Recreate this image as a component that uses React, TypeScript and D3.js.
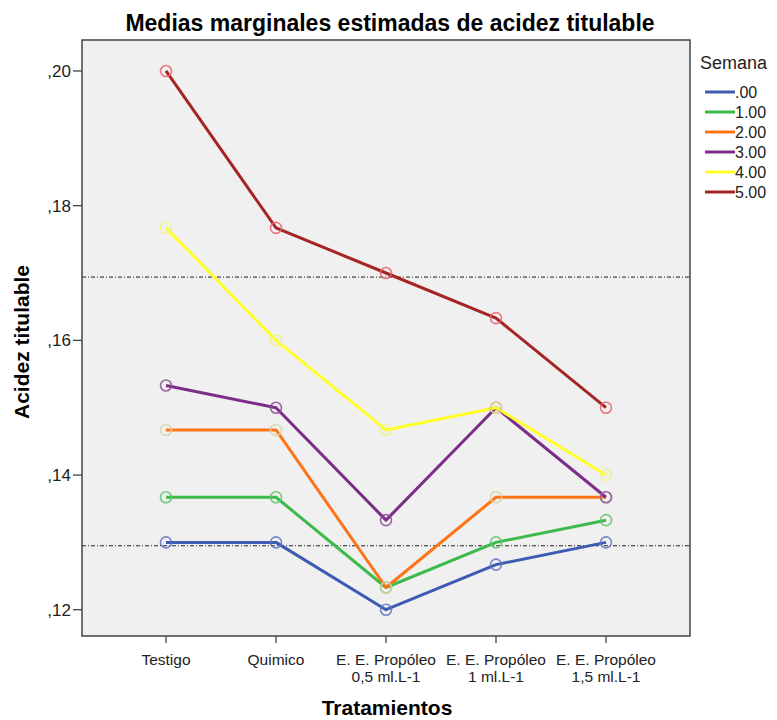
import React, { useEffect, useRef } from "react";
import * as d3 from "d3";

// Treatments (x categories)
const treatments: string[][] = [
  ["Testigo"],
  ["Quimico"],
  ["E. E. Propóleo", "0,5 ml.L-1"],
  ["E. E. Propóleo", "1 ml.L-1"],
  ["E. E. Propóleo", "1,5 ml.L-1"],
];

// Semana series
const weeks = [".00", "1.00", "2.00", "3.00", "4.00", "5.00"];

const week0 = [0.13, 0.13, 0.12, 0.1267, 0.13];
const week1 = [0.1367, 0.1367, 0.1233, 0.13, 0.1333];
const week2 = [0.1467, 0.1467, 0.1233, 0.1367, 0.1367];
const week3 = [0.1533, 0.15, 0.1333, 0.15, 0.1367];
const week4 = [0.1767, 0.16, 0.1467, 0.15, 0.14];
const week5 = [0.2, 0.1767, 0.17, 0.1633, 0.15];

const seriesValues = [week0, week1, week2, week3, week4, week5];

const lineColors = ["#3e5bb3", "#3dba4c", "#ff7417", "#7b2d87", "#ffff2a", "#a52424"];
const markerColors = ["#5f72c2", "#5cc46a", "#d8d2a4", "#8b4c94", "#f2f27e", "#ef5f6e"];

const yTicks = [0.12, 0.14, 0.16, 0.18, 0.2];
const refLines = [0.1694, 0.1295];

export default function App() {
  const svgRef = useRef<SVGSVGElement>(null);

  useEffect(() => {
    if (!svgRef.current) return;
    const svg = d3.select(svgRef.current);
    svg.selectAll("*").remove();

    const left = 82;
    const right = 690;
    const top = 40;
    const bottom = 636;
    const font = "'Liberation Sans', Arial, sans-serif";

    const x = d3
      .scalePoint<number>()
      .domain(d3.range(treatments.length))
      .range([166, 606]);

    const y = d3.scaleLinear().domain([0.1161, 0.2046]).range([bottom, top]);

    // Title
    svg
      .append("text")
      .attr("x", 390)
      .attr("y", 31)
      .attr("text-anchor", "middle")
      .attr("font-family", font)
      .attr("font-weight", "bold")
      .attr("font-size", "23px")
      .text("Medias marginales estimadas de acidez titulable");

    // Plot background
    svg
      .append("rect")
      .attr("x", left)
      .attr("y", top)
      .attr("width", right - left)
      .attr("height", bottom - top)
      .attr("fill", "#f0f0f0");

    // Reference lines
    refLines.forEach((v) => {
      svg
        .append("line")
        .attr("x1", left)
        .attr("x2", right)
        .attr("y1", y(v))
        .attr("y2", y(v))
        .attr("stroke", "#222")
        .attr("stroke-width", 1)
        .attr("stroke-dasharray", "4,2,1,2");
    });

    // Y axis ticks
    const yAxis = svg.append("g");
    yTicks.forEach((t) => {
      yAxis
        .append("line")
        .attr("x1", left - 9)
        .attr("x2", left)
        .attr("y1", y(t))
        .attr("y2", y(t))
        .attr("stroke", "#333")
        .attr("stroke-width", 1.2);
      yAxis
        .append("text")
        .attr("x", left - 11)
        .attr("y", y(t))
        .attr("dy", "0.35em")
        .attr("text-anchor", "end")
        .attr("font-family", font)
        .attr("font-size", "17px")
        .attr("fill", "#222")
        .text(d3.format(".2f")(t).replace("0.", ","));
    });

    // X axis ticks, two-line labels
    const xAxis = svg.append("g");
    treatments.forEach((lines, i) => {
      xAxis
        .append("line")
        .attr("x1", x(i)!)
        .attr("x2", x(i)!)
        .attr("y1", bottom)
        .attr("y2", bottom + 7)
        .attr("stroke", "#333")
        .attr("stroke-width", 1.2);
      lines.forEach((l, j) => {
        xAxis
          .append("text")
          .attr("x", x(i)!)
          .attr("y", 665 + j * 16.5)
          .attr("text-anchor", "middle")
          .attr("font-family", font)
          .attr("font-size", "15.5px")
          .attr("fill", "#222")
          .text(l);
      });
    });

    // Axis titles
    svg
      .append("text")
      .attr("x", 387)
      .attr("y", 715)
      .attr("text-anchor", "middle")
      .attr("font-family", font)
      .attr("font-weight", "bold")
      .attr("font-size", "21px")
      .text("Tratamientos");

    svg
      .append("text")
      .attr("transform", "translate(29,342) rotate(-90)")
      .attr("text-anchor", "middle")
      .attr("font-family", font)
      .attr("font-weight", "bold")
      .attr("font-size", "21px")
      .text("Acidez titulable");

    // Lines
    const line = d3
      .line<number>()
      .x((_, i) => x(i)!)
      .y((d) => y(d));

    seriesValues.forEach((vals, s) => {
      svg
        .append("path")
        .datum(vals)
        .attr("d", line)
        .attr("fill", "none")
        .attr("stroke", lineColors[s])
        .attr("stroke-width", 3)
        .attr("stroke-linejoin", "round");
    });

    // Markers
    seriesValues.forEach((vals, s) => {
      svg
        .append("g")
        .selectAll("circle")
        .data(vals)
        .enter()
        .append("circle")
        .attr("cx", (_, i) => x(i)!)
        .attr("cy", (d) => y(d))
        .attr("r", 5.5)
        .attr("fill", "none")
        .attr("stroke", markerColors[s])
        .attr("stroke-width", 1.6)
        .attr("opacity", 0.85);
    });

    // Frame
    svg
      .append("rect")
      .attr("x", left)
      .attr("y", top)
      .attr("width", right - left)
      .attr("height", bottom - top)
      .attr("fill", "none")
      .attr("stroke", "#444")
      .attr("stroke-width", 1.5);

    // Legend
    const legend = svg.append("g");
    legend
      .append("text")
      .attr("x", 700)
      .attr("y", 69)
      .attr("font-family", font)
      .attr("font-size", "18px")
      .attr("fill", "#222")
      .text("Semana");

    weeks.forEach((w, i) => {
      const ly = 92 + i * 20;
      legend
        .append("line")
        .attr("x1", 705)
        .attr("x2", 735)
        .attr("y1", ly)
        .attr("y2", ly)
        .attr("stroke", lineColors[i])
        .attr("stroke-width", 3);
      legend
        .append("text")
        .attr("x", 735)
        .attr("y", ly)
        .attr("dy", "0.38em")
        .attr("font-family", font)
        .attr("font-size", "16px")
        .attr("fill", "#222")
        .text(w);
    });
  }, []);

  return (
    <svg
      ref={svgRef}
      width={777}
      height={720}
      style={{ position: "absolute", left: 0, top: 0, background: "#fff" }}
    />
  );
}
